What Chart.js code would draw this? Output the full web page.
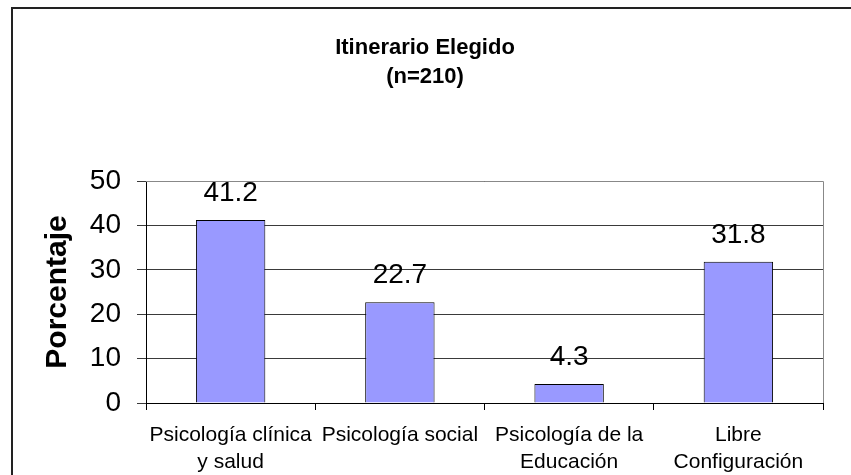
<!DOCTYPE html>
<html>
<head>
<meta charset="utf-8">
<script src="https://cdn.jsdelivr.net/npm/chart.js@4.4.0/dist/chart.umd.min.js"></script>
<style>
    html, body { margin: 0; padding: 0; background: #fff; }
    #wrap { position: relative; width: 851px; height: 475px; }
</style>
</head>
<body>
<div id="wrap"><canvas id="grafico"></canvas></div>
<script>
// Datos del gráfico
const categorias = [['Psicología clínica', 'y salud'], 'Psicología social', ['Psicología de la', 'Educación'], ['Libre', 'Configuración']];
const porcentajes = [41.2, 22.7, 4.3, 31.8];
const titulo = ['Itinerario Elegido', '(n=210)'];
const ejeY = { min: 0, max: 50, paso: 10, titulo: 'Porcentaje' };

const fuente = "'Liberation Sans', Arial, sans-serif";

// Marco exterior, título, borde del área y etiquetas de valor
const extras = {
    id: 'extras',
    beforeDraw(chart) {
        const ctx = chart.ctx;
        ctx.save();
        ctx.strokeStyle = '#222';
        ctx.lineWidth = 2;
        ctx.beginPath();
        ctx.moveTo(12, 475);
        ctx.lineTo(12, 8);
        ctx.lineTo(851, 8);
        ctx.stroke();
        ctx.restore();
    },
    afterDraw(chart) {
        const ctx = chart.ctx;
        const area = chart.chartArea;
        ctx.save();
        // borde gris del área de trazado
        ctx.strokeStyle = '#888';
        ctx.lineWidth = 1;
        ctx.beginPath();
        ctx.moveTo(area.left, area.top + 0.5);
        ctx.lineTo(area.right + 0.5, area.top + 0.5);
        ctx.lineTo(area.right + 0.5, area.bottom);
        ctx.stroke();

        ctx.fillStyle = '#000';
        ctx.textAlign = 'center';
        ctx.textBaseline = 'middle';
        ctx.font = 'bold 22px ' + fuente;
        ctx.fillText(titulo[0], 425, 48);
        ctx.fillText(titulo[1], 425, 77);

        ctx.font = '28px ' + fuente;
        ctx.textBaseline = 'alphabetic';
        const meta = chart.getDatasetMeta(0);
        meta.data.forEach((bar, i) => {
            ctx.fillText(String(porcentajes[i]), bar.x, bar.y - 19);
        });
        ctx.restore();
    }
};

new Chart(document.getElementById('grafico').getContext('2d'), {
    type: 'bar',
    data: {
        labels: categorias,
        datasets: [{
            data: porcentajes,
            backgroundColor: '#9999ff',
            borderColor: '#000',
            borderWidth: 1,
            barPercentage: 0.41,
            categoryPercentage: 1
        }]
    },
    options: {
        responsive: true,
        maintainAspectRatio: false,
        animation: false,
        layout: { padding: { left: 0, top: 181, right: 28, bottom: 0 } },
        plugins: {
            legend: { display: false },
            tooltip: { enabled: false }
        },
        scales: {
            x: {
                afterFit(scale) { scale.height = 72; },
                border: { color: '#000', width: 1 },
                grid: { offset: true, drawOnChartArea: false, tickLength: 7, color: '#000' },
                ticks: {
                    color: '#000',
                    font: { family: fuente, size: 21, lineHeight: 1.27 },
                    padding: 12,
                    maxRotation: 0,
                    autoSkip: false
                }
            },
            y: {
                min: ejeY.min,
                max: ejeY.max,
                afterFit(scale) { scale.width = 146; },
                border: { color: '#000', width: 1 },
                grid: { color: '#3a3a3a', tickLength: 9 },
                ticks: {
                    stepSize: ejeY.paso,
                    color: '#000',
                    font: { family: fuente, size: 28 },
                    padding: 16
                },
                title: {
                    display: true,
                    text: ejeY.titulo,
                    color: '#000',
                    font: { family: fuente, size: 30, weight: 'bold', lineHeight: 1.2 },
                    padding: { top: 40, bottom: 0 }
                }
            }
        }
    },
    plugins: [extras]
});
</script>
</body>
</html>
